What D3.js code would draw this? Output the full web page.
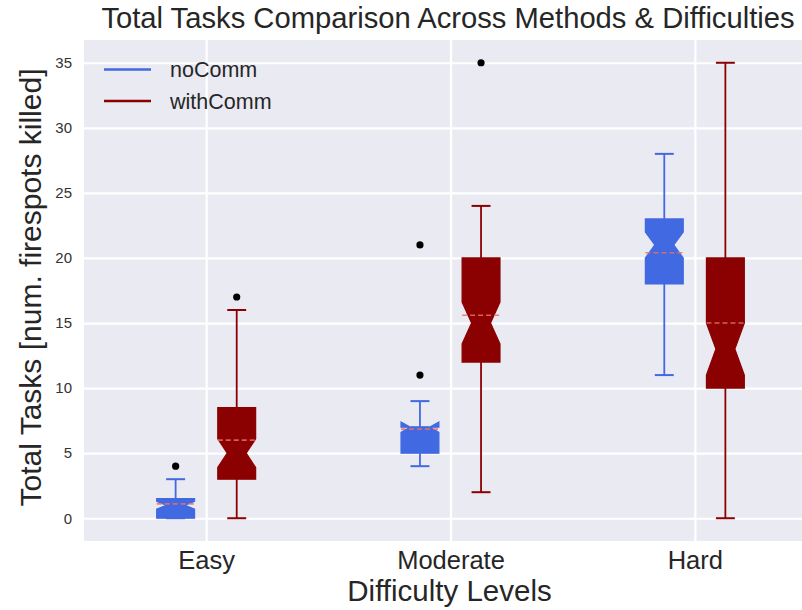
<!DOCTYPE html>
<html>
<head>
<meta charset="utf-8">
<script src="https://d3js.org/d3.v7.min.js"></script>
<style>
  html, body { margin: 0; padding: 0; background: #ffffff; }
  svg { display: block; font-family: "Liberation Sans", Arial, sans-serif; }
</style>
</head>
<body>
<div id="chart"></div>
<script>
// Difficulty levels and tick values
const categories = ["Easy", "Moderate", "Hard"];
const yTicks = [0, 5, 10, 15, 20, 25, 30, 35];
const seriesNames = ["noComm", "withComm"];

// Box statistics per difficulty, noComm
const noCommWhiskerLow  = [0, 4, 11];
const noCommQ1          = [0, 5, 18];
const noCommMedian      = [1, 7, 21];
const noCommQ3          = [1.5, 7, 23];
const noCommWhiskerHigh = [3, 9, 28];
const noCommMean        = [1.1, 6.85, 20.4];
const noCommNotchLow    = [0.7, 6.6, 20];
const noCommNotchHigh   = [1.3, 7.4, 22];
const noCommFliers      = [[4], [11, 21], []];

// Box statistics per difficulty, withComm
const withCommWhiskerLow  = [0, 2, 0];
const withCommQ1          = [3, 12, 10];
const withCommMedian      = [5, 15, 13];
const withCommQ3          = [8.5, 20, 20];
const withCommWhiskerHigh = [16, 24, 35];
const withCommMean        = [6, 15.6, 15];
const withCommNotchLow    = [3.9, 13.4, 11];
const withCommNotchHigh   = [6.1, 16.6, 15];
const withCommFliers      = [[17], [35], []];

const colors = { noComm: "#4169e1", withComm: "#8b0000" };
const meanColor = "#e8706a";

function buildSeries(name, wl, q1, med, q3, wh, mean, nlo, nhi, fl, offset) {
  return categories.map((c, i) => ({
    series: name, cat: c, pos: i + 1 + offset,
    wlo: wl[i], q1: q1[i], med: med[i], q3: q3[i], whi: wh[i],
    mean: mean[i], cilo: nlo[i], cihi: nhi[i], fliers: fl[i]
  }));
}

const boxes = [
  ...buildSeries("noComm", noCommWhiskerLow, noCommQ1, noCommMedian, noCommQ3,
    noCommWhiskerHigh, noCommMean, noCommNotchLow, noCommNotchHigh, noCommFliers, -0.125),
  ...buildSeries("withComm", withCommWhiskerLow, withCommQ1, withCommMedian, withCommQ3,
    withCommWhiskerHigh, withCommMean, withCommNotchLow, withCommNotchHigh, withCommFliers, 0.125)
];

const W = 802, H = 610;
const plot = { left: 84, right: 817, top: 40, bottom: 541 };
const boxWidth = 0.155;

const svg = d3.select("#chart").append("svg")
  .attr("width", W).attr("height", H);

const x = d3.scaleLinear().domain([0.5, 3.5]).range([plot.left, plot.right]);
const y = d3.scaleLinear().domain([-1.75, 36.75]).range([plot.bottom, plot.top]);

// Plot background
svg.append("rect")
  .attr("x", plot.left).attr("y", plot.top)
  .attr("width", plot.right - plot.left).attr("height", plot.bottom - plot.top)
  .attr("fill", "#eaeaf2");

// Horizontal grid + y tick labels
const yAxis = svg.append("g")
  .attr("transform", `translate(${plot.left},0)`)
  .call(d3.axisLeft(y).tickValues(yTicks).tickSize(-(plot.right - plot.left)).tickPadding(12));
yAxis.select(".domain").remove();
yAxis.selectAll(".tick line").attr("stroke", "#ffffff").attr("stroke-width", 2.2);
yAxis.selectAll(".tick text")
  .attr("fill", "#333333").attr("font-size", 15)
  .attr("font-family", "Liberation Sans, Arial, sans-serif");

// Vertical grid + category labels
const xAxis = svg.append("g")
  .attr("transform", `translate(0,${plot.bottom})`)
  .call(d3.axisBottom(x).tickValues([1, 2, 3]).tickFormat((d) => categories[d - 1])
    .tickSize(-(plot.bottom - plot.top)).tickPadding(10));
xAxis.select(".domain").remove();
xAxis.selectAll(".tick line").attr("stroke", "#ffffff").attr("stroke-width", 2.2);
xAxis.selectAll(".tick text")
  .attr("fill", "#262626").attr("font-size", 25.5)
  .attr("font-family", "Liberation Sans, Arial, sans-serif");

// Boxes
const g = svg.append("g");
boxes.forEach((b) => {
  const col = colors[b.series];
  const cx = x(b.pos);
  const half = x(b.pos + boxWidth / 2) - cx;
  const L = cx - half, R = cx + half;
  const capL = cx - half / 2, capR = cx + half / 2;

  // whiskers
  g.append("line").attr("x1", cx).attr("x2", cx)
    .attr("y1", y(b.q1)).attr("y2", y(b.wlo))
    .attr("stroke", col).attr("stroke-width", 1.8);
  g.append("line").attr("x1", cx).attr("x2", cx)
    .attr("y1", y(b.q3)).attr("y2", y(b.whi))
    .attr("stroke", col).attr("stroke-width", 1.8);
  // caps
  [b.wlo, b.whi].forEach((v) => {
    g.append("line").attr("x1", capL).attr("x2", capR)
      .attr("y1", y(v)).attr("y2", y(v))
      .attr("stroke", col).attr("stroke-width", 2);
  });

  // notched box outline
  const pts = [
    [L, b.q1], [R, b.q1], [R, b.cilo], [capR, b.med], [R, b.cihi],
    [R, b.q3], [L, b.q3], [L, b.cihi], [capL, b.med], [L, b.cilo], [L, b.q1]
  ];
  g.append("path")
    .attr("d", d3.line().x((p) => p[0]).y((p) => y(p[1]))(pts) + "Z")
    .attr("fill", col).attr("stroke", col).attr("stroke-width", 1.2)
    .attr("stroke-linejoin", "miter");

  // median
  g.append("line").attr("x1", capL).attr("x2", capR)
    .attr("y1", y(b.med)).attr("y2", y(b.med))
    .attr("stroke", col).attr("stroke-width", 1.5);

  // mean (dashed)
  g.append("line").attr("x1", L).attr("x2", R)
    .attr("y1", y(b.mean)).attr("y2", y(b.mean))
    .attr("stroke", meanColor).attr("stroke-width", 1.6)
    .attr("stroke-dasharray", "5,3").attr("opacity", 0.85);

  // fliers
  b.fliers.forEach((v) => {
    g.append("circle").attr("cx", cx).attr("cy", y(v)).attr("r", 3.6)
      .attr("fill", "#000000");
  });
});

// Legend
const legend = svg.append("g");
seriesNames.forEach((s, i) => {
  const ly = 69.5 + i * 31.5;
  legend.append("line").attr("x1", 104).attr("x2", 151)
    .attr("y1", ly).attr("y2", ly)
    .attr("stroke", colors[s]).attr("stroke-width", 2.6);
  legend.append("text").attr("x", 170).attr("y", ly + 7.5)
    .attr("font-size", 21.5).attr("fill", "#262626").text(s);
});

// Title and axis labels
const cxPlot = (plot.left + plot.right) / 2;
svg.append("text").attr("x", 448).attr("y", 28)
  .attr("text-anchor", "middle").attr("font-size", 29.2).attr("fill", "#262626")
  .text("Total Tasks Comparison Across Methods & Difficulties");

svg.append("text").attr("x", cxPlot - 1).attr("y", 601)
  .attr("text-anchor", "middle").attr("font-size", 29.5).attr("fill", "#262626")
  .text("Difficulty Levels");

svg.append("text")
  .attr("transform", `translate(41,${(plot.top + plot.bottom) / 2 - 3}) rotate(-90)`)
  .attr("text-anchor", "middle").attr("font-size", 30).attr("fill", "#262626")
  .text("Total Tasks [num. firespots killed]");
</script>
</body>
</html>
